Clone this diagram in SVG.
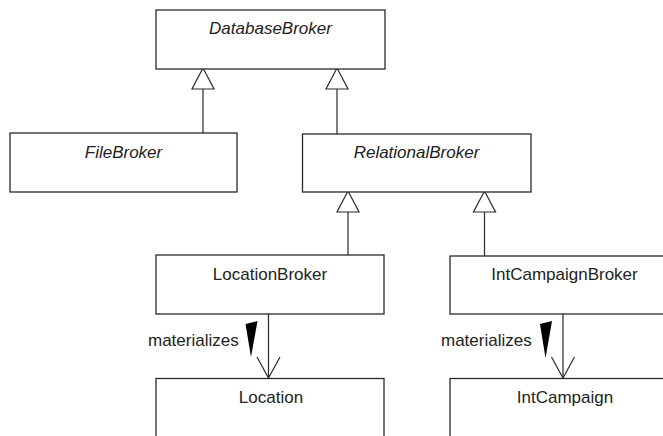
<svg xmlns="http://www.w3.org/2000/svg" width="663" height="436" viewBox="0 0 663 436">
<defs>
<style>
.box{fill:#fff;stroke:#2a2a2a;stroke-width:1.3}
.t{font-family:"Liberation Sans",Arial,sans-serif;font-size:17px;fill:#222;text-anchor:middle}
.i{font-style:italic}
.ln{stroke:#2a2a2a;stroke-width:1.2;fill:none}
.gen{fill:#fff;stroke:#2a2a2a;stroke-width:1.2}
.wedge{fill:#000}
.lbl{font-family:"Liberation Sans",Arial,sans-serif;font-size:17px;fill:#222}
</style>
</defs>
<rect width="663" height="436" fill="#fff"/>
<g id="connectors">
  <line class="ln" x1="203" y1="89" x2="203" y2="133"/>
  <polygon class="gen" points="203,68 192,89 214,89"/>
  <line class="ln" x1="337" y1="89" x2="337" y2="134"/>
  <polygon class="gen" points="337,68 326,89 348,89"/>
  <line class="ln" x1="348" y1="212" x2="348" y2="255"/>
  <polygon class="gen" points="348,191 337,212 359,212"/>
  <line class="ln" x1="484.5" y1="212" x2="484.5" y2="256"/>
  <polygon class="gen" points="484.5,191 473.5,212 495.5,212"/>
  <line class="ln" x1="268.5" y1="314" x2="268.5" y2="378"/>
  <polyline class="ln" points="257,357 268.5,378 280,357"/>
  <polygon class="wedge" points="245.5,324 257.5,321 251,357"/>
  <text class="lbl" x="148" y="346">materializes</text>
  <line class="ln" x1="563" y1="314" x2="563" y2="378"/>
  <polyline class="ln" points="551.5,357 563,378 574.5,357"/>
  <polygon class="wedge" points="540,324 552,321 545.5,358"/>
  <text class="lbl" x="441" y="346">materializes</text>
</g>
<g id="DatabaseBroker">
  <rect class="box" x="156" y="10" width="229" height="59"/>
  <text class="t i" x="270.5" y="34">DatabaseBroker</text>
</g>
<g id="FileBroker">
  <rect class="box" x="10" y="133" width="227" height="59"/>
  <text class="t i" x="123.5" y="158">FileBroker</text>
</g>
<g id="RelationalBroker">
  <rect class="box" x="302.5" y="134" width="228.5" height="58"/>
  <text class="t i" x="416.5" y="158">RelationalBroker</text>
</g>
<g id="LocationBroker">
  <rect class="box" x="156" y="255" width="228" height="59"/>
  <text class="t" x="270" y="280">LocationBroker</text>
</g>
<g id="IntCampaignBroker">
  <rect class="box" x="450" y="256" width="228" height="58"/>
  <text class="t" x="564.5" y="280">IntCampaignBroker</text>
</g>
<g id="Location">
  <rect class="box" x="156" y="378.5" width="228" height="70"/>
  <text class="t" x="271" y="403">Location</text>
</g>
<g id="IntCampaign">
  <rect class="box" x="450" y="378.5" width="228" height="70"/>
  <text class="t" x="565" y="403">IntCampaign</text>
</g>
</svg>
